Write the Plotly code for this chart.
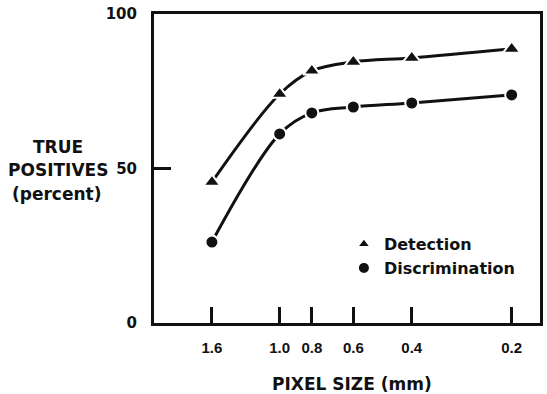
import plotly.graph_objects as go

pixel_size = [1.6, 1.0, 0.8, 0.6, 0.4, 0.2]
detection = [45.6, 74.1, 81.6, 84.5, 85.8, 88.7]
discrimination = [26.2, 61.2, 68.0, 69.9, 71.2, 73.8]
x_tick_vals = [1.6, 1.0, 0.8, 0.6, 0.4, 0.2]
x_tick_text = ["1.6", "1.0", "0.8", "0.6", "0.4", "0.2"]
y_tick_vals = [0, 50, 100]
y_tick_text = ["0", "50", "100"]

BLACK = "#111111"
fig = go.Figure()

# smooth curves
for ys in (detection, discrimination):
    fig.add_trace(go.Scatter(
        x=pixel_size, y=ys, mode="lines",
        line=dict(color=BLACK, width=3, shape="spline", smoothing=1.0),
        showlegend=False, hoverinfo="skip"))

# markers (with white halo to break the line like the original)
fig.add_trace(go.Scatter(
    x=pixel_size, y=detection, mode="markers", name="Detection",
    marker=dict(symbol="triangle-up", size=15, color=BLACK,
                line=dict(color="white", width=2))))
fig.add_trace(go.Scatter(
    x=pixel_size, y=discrimination, mode="markers", name="Discrimination",
    marker=dict(symbol="circle", size=13, color=BLACK,
                line=dict(color="white", width=2))))

title_font = dict(family="DejaVu Sans", size=17, color=BLACK, weight="bold")

fig.update_layout(
    width=547, height=394,
    margin=dict(l=154, r=7, t=14, b=71),
    paper_bgcolor="white", plot_bgcolor="white",
    showlegend=True,
    legend=dict(x=0.492, y=0.31, xanchor="left", yanchor="top",
                bgcolor="rgba(0,0,0,0)", borderwidth=0,
                font=dict(family="DejaVu Sans", size=16, color=BLACK, weight="bold"),
                tracegroupgap=0, itemsizing="constant"),
    xaxis=dict(
        type="log", range=[0.3786, -0.7843], automargin=False,
        tickvals=x_tick_vals, ticktext=x_tick_text,
        ticks="inside", ticklen=16, tickwidth=2.5, tickcolor=BLACK,
        ticklabelstandoff=9,
        tickfont=dict(family="Liberation Sans", size=15, color=BLACK, weight="bold"),
        showline=True, linecolor=BLACK, linewidth=3, mirror=True,
        showgrid=False, zeroline=False),
    yaxis=dict(
        range=[0, 100], automargin=False,
        tickvals=y_tick_vals, ticktext=y_tick_text,
        ticks="inside", ticklen=17, tickwidth=3, tickcolor=BLACK,
        ticklabelstandoff=11,
        tickfont=dict(family="DejaVu Sans", size=15, color=BLACK, weight="bold"),
        showline=True, linecolor=BLACK, linewidth=3, mirror=True,
        showgrid=False, zeroline=False),
    annotations=[
        dict(text="PIXEL SIZE (mm)", xref="paper", yref="paper",
             x=0.513, y=-0.197, xanchor="center", yanchor="middle",
             showarrow=False, font=title_font),
        dict(text="TRUE", xref="paper", yref="paper",
             x=-0.2487, y=0.568, xanchor="center", yanchor="middle",
             showarrow=False, font=title_font),
        dict(text="POSITIVES", xref="paper", yref="paper",
             x=-0.248, y=0.495, xanchor="center", yanchor="middle",
             showarrow=False, font=title_font),
        dict(text="(percent)", xref="paper", yref="paper",
             x=-0.2515, y=0.419, xanchor="center", yanchor="middle",
             showarrow=False, font=title_font),
    ],
)

fig.write_html(
    "out.html",
    config={"responsive": False, "displayModeBar": False},
    post_script="document.body.style.margin='0';document.body.style.overflow='hidden';",
)
